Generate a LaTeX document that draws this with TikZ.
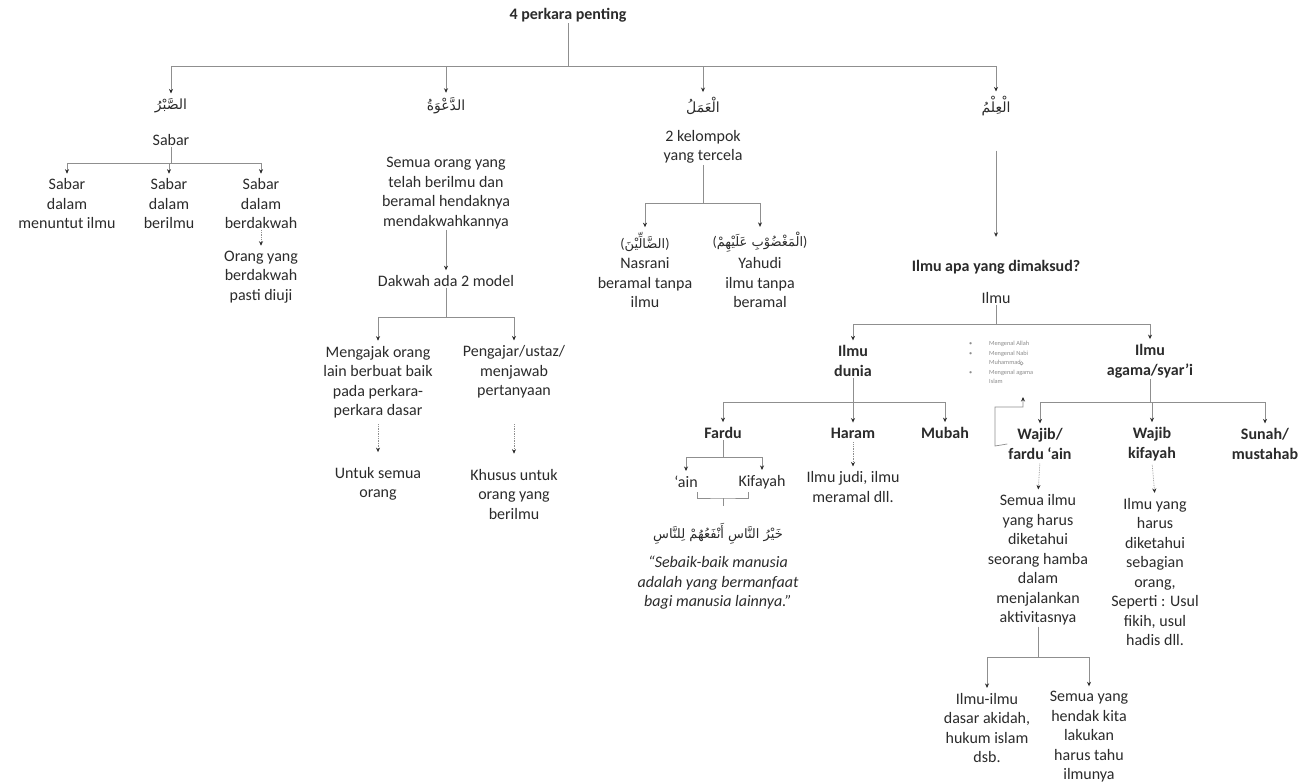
\documentclass[tikz,border=0pt]{standalone}
\usepackage{fontspec}
\setmainfont{Carlito}
\newfontfamily\arabicfont[Script=Arabic]{DejaVu Sans}
\TeXXeTstate=1
\usetikzlibrary{arrows.meta}
\definecolor{txt}{HTML}{2B2B2B}
\definecolor{lin}{HTML}{8F8F8F}
\newcommand{\arb}[1]{{\arabicfont\fontsize{13}{16}\selectfont\beginR #1\endR}}
\tikzset{
  tx/.style={font=\fontsize{16}{19.5}\selectfont, text=txt, align=center, inner sep=1pt},
  bx/.style={font=\fontsize{16}{19.5}\selectfont\bfseries, text=txt, align=center, inner sep=1pt},
  it/.style={font=\fontsize{16}{19.5}\selectfont\itshape, text=txt, align=center, inner sep=1pt},
  ar/.style={font=\fontsize{14}{16}\selectfont, text=txt, inner sep=1pt},
  ln/.style={draw=lin, line width=0.7pt},
  arr/.style={draw=lin, line width=0.7pt, -{Stealth[length=4.5pt,width=4pt,color=txt]}, shorten >=4pt},
  dt/.style={arr, densely dotted},
}
\begin{document}
\begin{tikzpicture}[x=1pt,y=-1pt]
\fill[white] (0,0) rectangle (1314,784);
\useasboundingbox (0,0) rectangle (1314,784);

% title
\node[bx] (title) at (568,15) {4 perkara penting};
\coordinate (tb) at (568,66);

% four pillars
\node[ar] (sabrA)  at (171,106) {{\arabicfont\fontsize{14}{16}\selectfont\beginR الصَّبْرُ\endR}};
\node[ar] (dawahA) at (446,106) {{\arabicfont\fontsize{14}{16}\selectfont\beginR الدَّعْوَةُ\endR}};
\node[ar] (amalA)  at (703,106) {{\arabicfont\fontsize{14}{16}\selectfont\beginR الْعَمَلُ\endR}};
\node[ar] (ilmA)   at (996,106) {{\arabicfont\fontsize{14}{16}\selectfont\beginR الْعِلْمُ\endR}};

\draw[ln] (title.south) -- (tb);
\draw[arr] (tb) -| (sabrA.north);
\draw[arr] (tb) -| (dawahA.north);
\draw[arr] (tb) -| (amalA.north);
\draw[arr] (tb) -| (ilmA.north);

% ---- Sabar branch
\node[tx] (sabar) at (171,140) {Sabar};
\coordinate (sb) at (171,163);
\node[tx] (s1) at (67,204)  {Sabar\\dalam\\menuntut ilmu};
\node[tx] (s2) at (169,204) {Sabar\\dalam\\berilmu};
\node[tx] (s3) at (261,204) {Sabar\\dalam\\berdakwah};
\node[tx] (s4) at (261,277) {Orang yang\\berdakwah\\pasti diuji};
\draw[ln] (sabar.south) -- (sb);
\draw[arr] (sb) -| (s1.north);
\draw[arr] (sb) -| (s2.north);
\draw[arr] (sb) -| (s3.north);
\draw[dt] (s3.south) -- (s4.north);

% ---- Dakwah branch
\node[tx] (d1) at (446,193) {Semua orang yang\\telah berilmu dan\\beramal hendaknya\\mendakwahkannya};
\node[tx] (d2) at (446,281) {Dakwah ada 2 model};
\coordinate (db) at (446,317);
\node[tx] (d3) at (378,382) {Mengajak orang\\lain berbuat baik\\pada perkara-\\perkara dasar};
\node[tx] (d4) at (514,372) {Pengajar/ustaz/\\menjawab\\pertanyaan};
\node[tx] (d5) at (378,484) {Untuk semua\\orang};
\node[tx] (d6) at (514,494) {Khusus untuk\\orang yang\\berilmu};
\draw[arr] (d1.south) -- (d2.north);
\draw[ln] (d2.south) -- (db);
\draw[arr] (db) -| (d3.north);
\draw[arr] (db) -| (d4.north);
\draw[dt, shorten <=5pt, shorten >=14pt] (d3.south) -- (d5.north);
\draw[dt, shorten <=5pt, shorten >=14pt] (d3.south -| d4) -- (d6.north);

% ---- Amal branch
\node[tx] (a1) at (703,147) {2 kelompok\\yang tercela};
\coordinate (ab) at (703,203);
\node[ar] (a2) at (645,242) {(\arb{الضَّالِّيْنَ})};
\node[ar] (a3) at (760,242) {(\arb{الْمَغْضُوْبِ عَلَيْهِمْ})};
\node[tx] (a4) at (645,283) {Nasrani\\beramal tanpa\\ilmu};
\node[tx] (a5) at (760,283) {Yahudi\\ilmu tanpa\\beramal};
\draw[ln] (a1.south) -- (ab);
\draw[arr] (ab) -| (a2.north);
\draw[arr] (ab) -| (a3.north);

% ---- Ilmu branch
\node[bx] (i1) at (996,267) {Ilmu apa yang dimaksud?};
\node[tx] (i2) at (996,298) {Ilmu};
\draw[arr, shorten <=34pt, shorten >=22pt] (ilmA.south) -- (i1.north);
\coordinate (ib) at (996,324);
\node[bx] (i3) at (853,361) {Ilmu\\dunia};
\node[bx] (i4) at (1150,361) {Ilmu\\agama/syar’i};
\draw[ln] (i2.south) -- (ib);
\draw[arr] (ib) -| (i3.north);
\draw[arr] (ib) -| (i4.north);

% bullet list
\node[font=\fontsize{6.3}{9.6}\selectfont, text=black!45, align=left, anchor=north west, inner sep=0pt] (bl) at (969,341)
 {\makebox[20pt][l]{\textbullet}Mengenal Allah\\
  \makebox[20pt][l]{\textbullet}Mengenal Nabi\\
  \hspace*{20pt}Muhammad\\
  \makebox[20pt][l]{\textbullet}Mengenal agama\\
  \hspace*{20pt}Islam};
\draw[black!45, line width=0.4pt] (1021.5,363.3) circle (1.7);

% Ilmu dunia
\coordinate (i3b) at (853,402);
\node[bx] (f1) at (723,433) {Fardu};
\node[bx] (f2) at (853,433) {Haram};
\node[bx] (f3) at (945,433) {Mubah};
\draw[ln] (i3.south) -- (i3b);
\draw[arr] (i3b) -| (f1.north);
\draw[arr] (i3b) -| (f2.north);
\draw[arr] (i3b) -| (f3.north);

\coordinate (f1b) at (723,457);
\node[tx] (ain) at (686,482) {‘ain};
\node[tx] (kif) at (762,482) {Kifayah};
\draw[ln] (f1.south) -- (f1b);
\draw[arr] (f1b) -| (ain.north);
\draw[arr] (f1b) -| (kif.north);

\coordinate (bk1) at (697,492);
\coordinate (bk2) at (748,492);
\coordinate (bkm) at (723,498);
\coordinate (bke) at (723,506);
\draw[ln] (bk1) |- (bkm) -| (bk2);
\draw[ln] (bkm) -- (bke);

\node[ar] (hd) at (718,534) {\arb{خَيْرُ النَّاسِ أَنْفَعُهُمْ لِلنَّاسِ}};
\node[it] (tr) at (718,583) {“Sebaik-baik manusia\\adalah yang bermanfaat\\bagi manusia lainnya.”};

\node[tx] (ht) at (853,487) {Ilmu judi, ilmu\\meramal dll.};
\draw[dt, shorten <=3pt] (f2.south) -- (ht.north);

% Ilmu agama
\coordinate (i4b) at (1150,402);
\node[bx] (w1) at (1040,444) {Wajib/\\fardu ‘ain};
\node[bx] (w2) at (1152,444) {Wajib\\kifayah};
\node[bx] (w3) at (1265,444) {Sunah/\\mustahab};
\draw[ln] (i4.south) -- (i4b);
\draw[arr] (i4b) -| (w1.north);
\draw[arr] (i4b) -| (w2.north);
\draw[arr] (i4b) -| (w3.north);

\coordinate (e1) at (995,446);
\coordinate (e2) at (995,407);
\coordinate (blin) at (1023,397);
\draw[arr, shorten >=0pt] (w1.west) -- (e1) -- (e2) -| (blin);

\node[tx] (w4) at (1038,560) {Semua ilmu\\yang harus\\diketahui\\seorang hamba\\dalam\\menjalankan\\aktivitasnya};
\node[tx] (w5) at (1155,572) {Ilmu yang\\harus\\diketahui\\sebagian\\orang,\\Seperti : Usul\\fikih, usul\\hadis dll.};
\draw[dt, shorten <=3pt] (w1.south) -- (w4.north);
\draw[dt, shorten <=3pt] (w2.south) -- (w5.north);

\coordinate (w4b) at (1038,657);
\node[tx] (w6) at (987,728) {Ilmu-ilmu\\dasar akidah,\\hukum islam\\dsb.};
\node[tx] (w7) at (1089,737) {Semua yang\\hendak kita\\lakukan\\harus tahu\\ilmunya};
\draw[ln] (w4.south) -- (w4b);
\draw[arr] (w4b) -| (w6.north);
\draw[arr] (w4b) -| (w7.north);
\end{tikzpicture}
\end{document}
